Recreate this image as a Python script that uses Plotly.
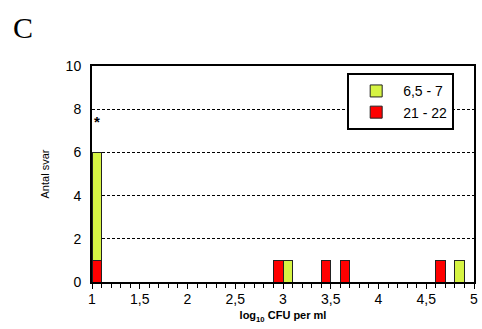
import plotly.graph_objects as go

# Histogram bins (left edge, log10 CFU per ml) and counts per temperature group
bin_width = 0.1
green_bins = [1.0, 3.0, 4.8]
green_counts = [5, 1, 1]
red_bins = [1.0, 2.9, 3.4, 3.6, 4.6]
red_counts = [1, 1, 1, 1, 1]

green_label = "6,5 - 7"
red_label = "21 - 22"

x_ticks = [1, 1.5, 2, 2.5, 3, 3.5, 4, 4.5, 5]
x_ticktext = ["1", "1,5", "2", "2,5", "3", "3,5", "4", "4,5", "5"]
y_ticks = [0, 2, 4, 6, 8, 10]

GREEN = "#d6f443"
RED = "#ff0000"
FONT = "Liberation Sans, Arial, sans-serif"

fig = go.Figure()

# red drawn first so it sits at the bottom of the stack
fig.add_trace(go.Bar(
    x=[b + bin_width / 2 for b in red_bins], y=red_counts, width=bin_width,
    name=red_label, marker=dict(color=RED, line=dict(color="#222", width=1)),
))
fig.add_trace(go.Bar(
    x=[b + bin_width / 2 for b in green_bins], y=green_counts, width=bin_width,
    name=green_label, marker=dict(color=GREEN, line=dict(color="#222", width=1)),
))

fig.add_annotation(x=1.055, y=7.45, text="<b>*</b>", showarrow=False,
                   font=dict(family=FONT, size=15, color="black"))

fig.update_layout(
    width=482, height=329,
    margin=dict(l=92, r=4, t=66, b=47),
    barmode="stack",
    plot_bgcolor="white", paper_bgcolor="white",
    font=dict(family=FONT, size=14, color="black"),
    showlegend=True,
    legend=dict(
        x=0.668, y=0.966, xanchor="left", yanchor="top",
        bgcolor="white", bordercolor="black", borderwidth=2,
        traceorder="reversed", font=dict(size=14),
        itemwidth=44,
    ),
    xaxis=dict(
        range=[1, 5], tickvals=x_ticks, ticktext=x_ticktext,
        showline=True, linecolor="black", linewidth=2, mirror=True,
        ticks="outside", ticklen=5, tickwidth=1, tickcolor="black",
        ticklabelstandoff=-2,
        minor=dict(dtick=0.1, ticks="outside", ticklen=4, tickcolor="black", tickwidth=1),
        showgrid=False, zeroline=False,
        title=dict(text="<b>log<sub>10</sub> CFU per ml</b>", font=dict(size=11), standoff=6),
    ),
    yaxis=dict(
        range=[0, 10], tickvals=y_ticks,
        showline=True, linecolor="black", linewidth=2, mirror=True,
        ticks="", ticklabelstandoff=6,
        showgrid=True, gridcolor="black", gridwidth=1, griddash="3px,2px",
        zeroline=False,
        title=dict(text="Antal svar", font=dict(size=11), standoff=14),
    ),
)

fig.add_annotation(xref="paper", yref="paper", x=-0.212, y=1.18,
                   xanchor="left", yanchor="middle", showarrow=False, text="C",
                   font=dict(family="Liberation Serif, Times New Roman, serif", size=30, color="black"))

fig.write_html("out.html")
